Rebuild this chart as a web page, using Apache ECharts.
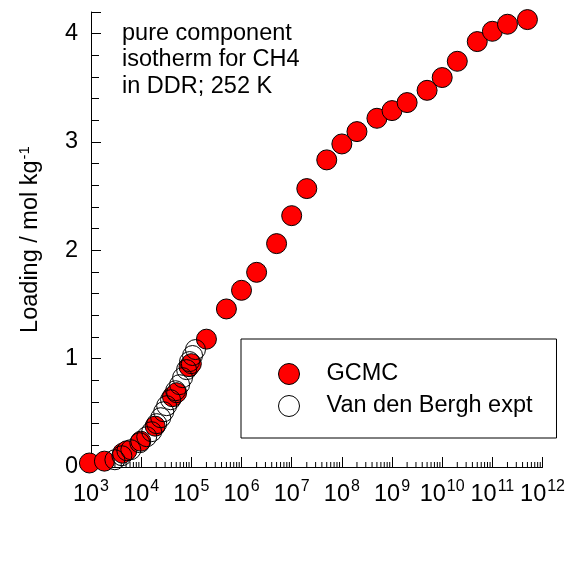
<!DOCTYPE html>
<html>
<head>
<meta charset="utf-8">
<script src="https://cdn.jsdelivr.net/npm/echarts@6/dist/echarts.min.js"></script>
<style>
  html, body { margin: 0; padding: 0; background: #fff; }
  #chart { width: 568px; height: 579px; }
</style>
</head>
<body>
<div id="chart"></div>
<script>
// CH4 in DDR at 252 K: pure component isotherm
// pressures in Pa, loadings in mol/kg

const pressureGCMC = [
  930, 1850, 4260, 5180, 9820, 19000, 42000, 51000, 90000, 100000,
  200000, 500000, 1e6, 2e6, 5e6, 1e7, 2e7, 5e7, 1e8, 2e8,
  5e8, 1e9, 2e9, 5e9, 1e10, 2e10, 5e10, 1e11, 2e11, 5e11
];
const loadingGCMC = [
  0.037, 0.054, 0.127, 0.150, 0.238, 0.377, 0.649, 0.686, 0.926, 0.954,
  1.18, 1.459, 1.631, 1.797, 2.062, 2.320, 2.570, 2.835, 2.982, 3.096,
  3.219, 3.290, 3.364, 3.477, 3.595, 3.745, 3.927, 4.022, 4.087, 4.130
];

const pressureExpt = [
  2990, 4120, 6220, 9380, 12900, 16200, 20400, 24500, 28100, 32200,
  38600, 48600, 58300, 66800, 80400, 92000, 105700, 121000
];
const loadingExpt = [
  0.067, 0.104, 0.160, 0.224, 0.280, 0.326, 0.400, 0.455, 0.510, 0.566,
  0.621, 0.704, 0.760, 0.825, 0.899, 0.973, 1.029, 1.084
];

// x-axis decades (exponents of 10) and minor-tick mantissas
const xDecades = [3, 4, 5, 6, 7, 8, 9, 10, 11, 12];
const minorMantissas = [2, 3, 4, 5, 6, 7, 8, 9];
const yTickValues = [0, 1, 2, 3, 4];

const FONT = "'Liberation Sans', Arial, sans-serif";
const FS = 23.5;   // main text size
const FS_SUP = 16; // superscript size

const minorTickData = [];
xDecades.slice(0, -1).forEach(e => {
  minorMantissas.forEach(m => minorTickData.push([m * Math.pow(10, e), 0]));
});

const chart = echarts.init(document.getElementById('chart'), null, { renderer: 'canvas' });

chart.setOption({
  backgroundColor: '#fff',
  animation: false,
  textStyle: { fontFamily: FONT, color: '#000' },
  grid: { left: 91, right: 23, top: 12, bottom: 112 },
  xAxis: {
    type: 'log',
    logBase: 10,
    min: Math.pow(10, xDecades[0]),
    max: Math.pow(10, xDecades[xDecades.length - 1]),
    splitLine: { show: false },
    axisLine: { lineStyle: { color: '#000', width: 1 } },
    axisTick: { inside: true, length: 10, lineStyle: { color: '#000' } },
    axisLabel: {
      margin: 12,
      color: '#000',
      formatter: v => '{b|10}{s|' + Math.round(Math.log10(v)) + '}',
      rich: {
        b: { fontSize: FS, fontFamily: FONT, color: '#000', verticalAlign: 'bottom', lineHeight: 28 },
        s: { fontSize: FS_SUP, fontFamily: FONT, color: '#000', verticalAlign: 'top', lineHeight: 28, padding: [0, 0, 8, 1] }
      }
    }
  },
  yAxis: {
    type: 'value',
    min: 0,
    max: 4.2,
    interval: 1,
    splitLine: { show: false },
    axisLine: { show: true, lineStyle: { color: '#000', width: 1 } },
    axisTick: { show: true, inside: true, length: 10, lineStyle: { color: '#000' } },
    minorTick: { show: true, splitNumber: 5, length: 8, lineStyle: { color: '#000' } },
    axisLabel: {
      margin: 13,
      fontSize: FS,
      color: '#000',
      showMaxLabel: false,
      formatter: v => (yTickValues.indexOf(v) >= 0 ? String(v) : '')
    },
    name: '{n|Loading / mol kg}{s|-1}',
    nameLocation: 'middle',
    nameRotate: 90,
    nameGap: 48,
    nameTextStyle: {
      rich: {
        n: { fontSize: FS, fontFamily: FONT, color: '#000', verticalAlign: 'bottom', lineHeight: 26 },
        s: { fontSize: FS_SUP - 1, fontFamily: FONT, color: '#000', verticalAlign: 'top', lineHeight: 26, padding: [0, 0, 8, 1] }
      }
    }
  },
  legend: {
    left: 241,
    top: 339,
    orient: 'vertical',
    backgroundColor: '#fff',
    borderColor: '#000',
    borderWidth: 1,
    borderRadius: 0,
    padding: [23, 24, 20, 37],
    itemGap: 8,
    itemWidth: 21,
    itemHeight: 21,
    icon: 'circle',
    textStyle: { fontSize: FS, fontFamily: FONT, color: '#000', padding: [0, 0, 0, 22] },
    data: [
      { name: 'GCMC', itemStyle: { color: '#ff0000', borderColor: '#000', borderWidth: 1 } },
      { name: 'Van den Bergh expt', itemStyle: { color: '#fff', borderColor: '#000', borderWidth: 1 } }
    ]
  },
  graphic: [
    {
      type: 'text',
      left: 122,
      top: 20,
      style: {
        text: 'pure component\nisotherm for CH4\nin DDR; 252 K',
        font: FS + "px 'Liberation Sans', Arial, sans-serif",
        lineHeight: 26.5,
        fill: '#000'
      }
    }
  ],
  series: [
    {
      name: 'minor ticks',
      type: 'custom',
      silent: true,
      clip: false,
      z: 1,
      data: minorTickData,
      renderItem: (params, api) => {
        const p = api.coord([api.value(0), 0]);
        return {
          type: 'line',
          shape: { x1: p[0], y1: p[1], x2: p[0], y2: p[1] - 5 },
          style: { stroke: '#000', lineWidth: 1 }
        };
      }
    },
    {
      name: 'GCMC',
      type: 'scatter',
      clip: false,
      z: 2,
      symbol: 'circle',
      symbolSize: 20,
      itemStyle: { color: '#ff0000', borderColor: '#000', borderWidth: 1, opacity: 1 },
      data: pressureGCMC.map((p, i) => [p, loadingGCMC[i]])
    },
    {
      name: 'Van den Bergh expt',
      type: 'scatter',
      clip: false,
      z: 3,
      symbol: 'circle',
      symbolSize: 20,
      itemStyle: { color: 'rgba(255,255,255,0)', borderColor: '#000', borderWidth: 1, opacity: 1 },
      data: pressureExpt.map((p, i) => [p, loadingExpt[i]])
    }
  ]
});
</script>
</body>
</html>
